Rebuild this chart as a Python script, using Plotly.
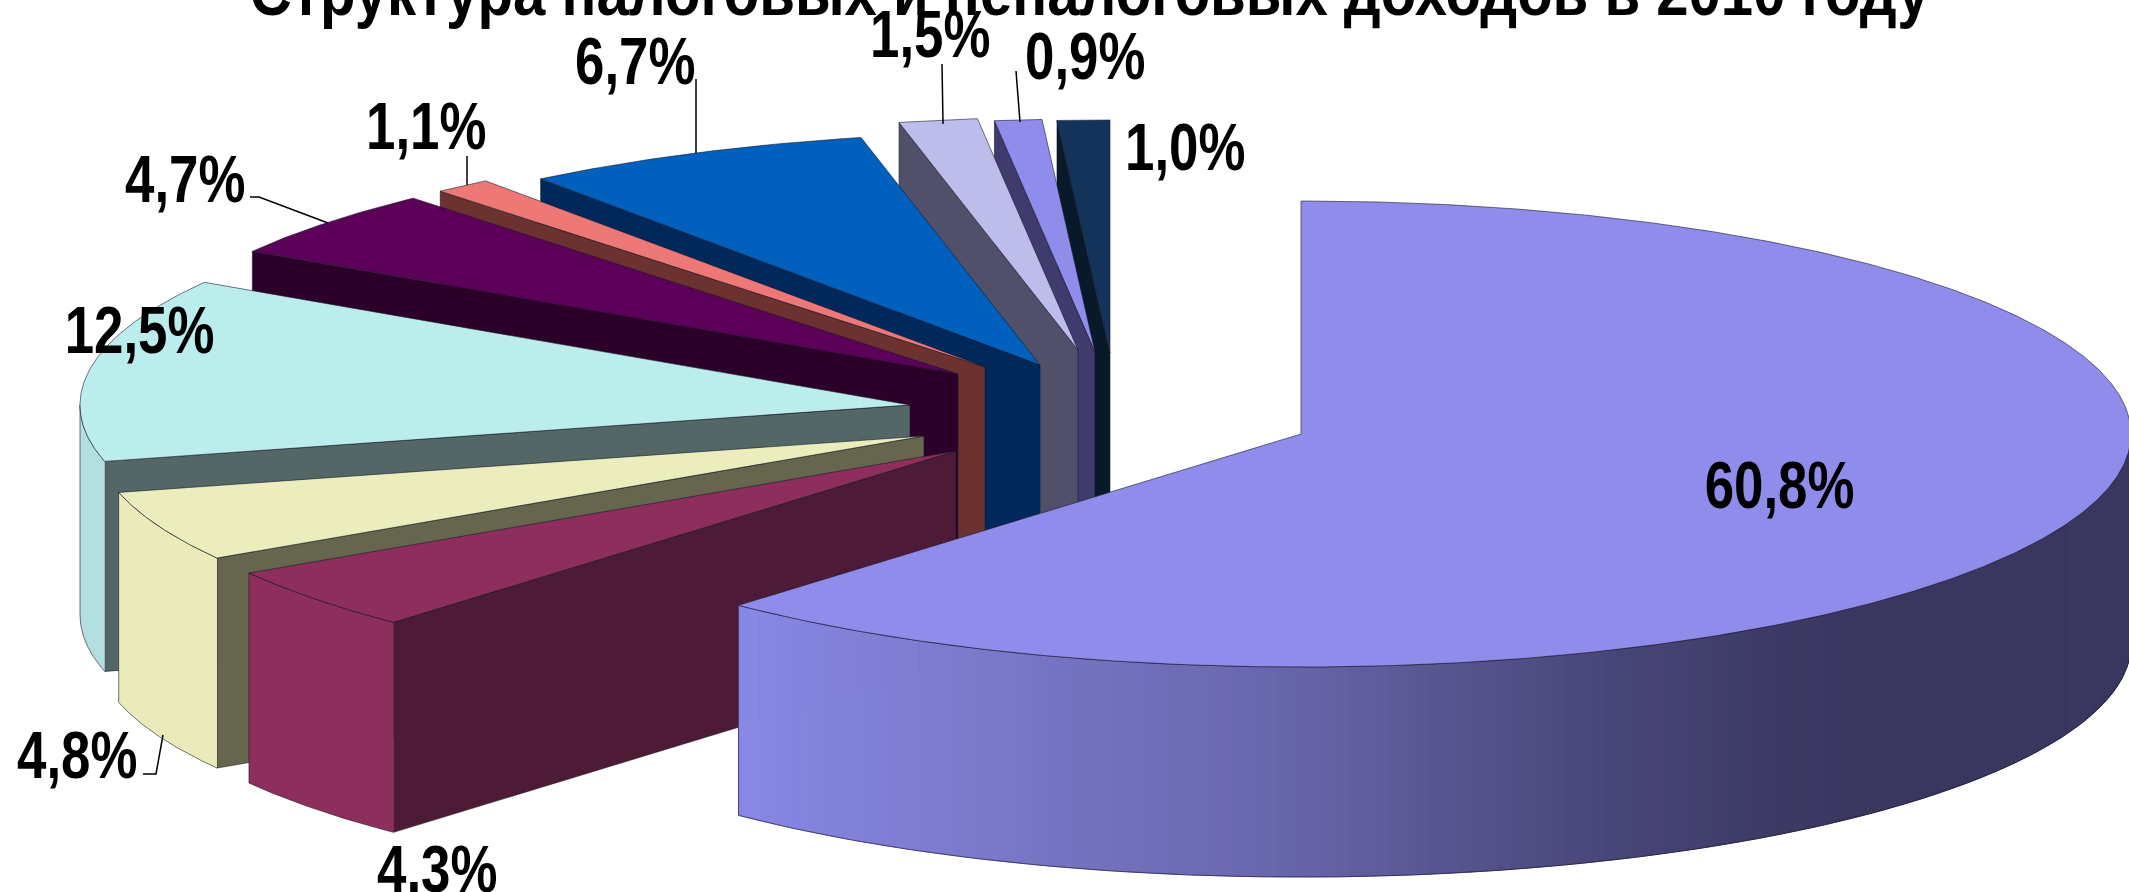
import numpy as np
import plotly.graph_objects as go

TITLE = "Структура налоговых и неналоговых доходов в 2010 году"
# clockwise from 12 o'clock
shares = [60.8, 4.3, 4.8, 12.5, 4.7, 1.1, 6.7, 1.5, 0.9, 1.0]
top_colors = ["#8f8ceb", "#8d2e5c", "#ecedbd", "#bbeded", "#5d0059", "#ee7876", "#0060bd", "#bdbdec", "#8f8ceb", "#13335a"]
wall_colors = ["#3f3b6d", "#4e1b36", "#66664e", "#536766", "#2b0029", "#6b3230", "#00285a", "#50506a", "#3f3b6d", "#08192a"]
rim_colors = [None, "#8d2e5c", "#eaeaba", "#b3dfe0", "#5d0059", "#ee7876", "#0060bd", "#bdbdec", "#8f8ceb", "#13335a"]
# explosion of every slice from the pie centre (layout, px)
pull_x = [191, -154, -186, -200, -152, -125, -70, -32, -15, 0]
pull_y = [81, 98, 83, 52, 21, 14, 12, -3, -1, 0]
# label anchors and leader lines (layout, px)
label_x = [1779, 437, 77, 139, 185, 426, 635, 930, 1085, 1185]
label_y = [485, 869, 755, 330, 179, 126, 61, 34, 56, 147]
leaders = [
    [],
    [],
    [(163, 735), (156, 774), (143, 774)],
    [],
    [(250, 197), (259, 197), (328, 223)],
    [(467, 156), (467, 185)],
    [(696, 79), (696, 153)],
    [(942, 64), (943, 124)],
    [(1016, 71), (1020, 122)],
    [],
]

W, H = 2129, 892
CX, CY = 1110, 353
RX, RY, DEPTH = 830, 233, 210
EDGE = "rgba(25,25,45,0.6)"
LABEL_FONT = "Liberation Sans, Arial, sans-serif"
GRAD_X = [741, 1000, 1283, 1520, 1748, 1885, 2129]
GRAD_R = [0x88, 0x7a, 0x68, 0x50, 0x3e, 0x39, 0x39]
GRAD_G = [0x88, 0x78, 0x66, 0x4e, 0x3c, 0x37, 0x37]
GRAD_B = [0xe6, 0xc8, 0xab, 0x84, 0x68, 0x5f, 0x5f]

fig = go.Figure()


def poly(xs, ys, fill, line=EDGE, lw=1):
    fig.add_trace(go.Scatter(
        x=list(xs), y=list(ys), mode="lines", fill="toself", fillcolor=fill,
        line=dict(color=line, width=lw), hoverinfo="skip", showlegend=False,
    ))


total = sum(shares)
angles = np.concatenate([[0], np.cumsum(shares)]) / total * 360

# back slices first, the big front slice last
for i in list(range(len(shares) - 1, 0, -1)) + [0]:
    t0, t1 = angles[i], angles[i + 1]
    ax, ay = CX + pull_x[i], CY + pull_y[i]

    def px(t):
        return ax + RX * np.sin(np.radians(t))

    def py(t):
        return ay - RY * np.cos(np.radians(t))

    # radial wall at the slice's starting edge
    if i != 0:
        ex, ey = px(t0), py(t0)
        poly([ax, ex, ex, ax, ax], [ay, ey, ey + DEPTH, ay + DEPTH, ay], wall_colors[i])

    # outer rim, the part that faces the viewer
    r0, r1 = max(t0, 90), min(t1, 270)
    if r1 > r0:
        if i == 0:
            steps = np.linspace(r0, r1, 140)
            for a, b in zip(steps[:-1], steps[1:]):
                xm = float(px((a + b) / 2))
                c = "rgb(%d,%d,%d)" % (np.interp(xm, GRAD_X, GRAD_R), np.interp(xm, GRAD_X, GRAD_G), np.interp(xm, GRAD_X, GRAD_B))
                poly([px(a), px(b), px(b), px(a), px(a)],
                     [py(a), py(b), py(b) + DEPTH, py(a) + DEPTH, py(a)], c, line=c, lw=1)
        tt = np.linspace(r0, r1, 160)
        xs = np.concatenate([px(tt), px(tt[::-1])])
        ys = np.concatenate([py(tt), py(tt[::-1]) + DEPTH])
        if i == 0:
            fig.add_trace(go.Scatter(x=xs, y=ys, mode="lines", line=dict(color=EDGE, width=1),
                                     hoverinfo="skip", showlegend=False))
        else:
            poly(xs, ys, rim_colors[i])

    # top face
    tt = np.linspace(t0, t1, max(8, int((t1 - t0) * 3)))
    poly(np.concatenate([[ax], px(tt), [ax]]), np.concatenate([[ay], py(tt), [ay]]), top_colors[i])

# leader lines
for pts in leaders:
    if pts:
        fig.add_trace(go.Scatter(x=[p[0] for p in pts], y=[p[1] for p in pts], mode="lines",
                                 line=dict(color="#000000", width=1.5), hoverinfo="skip", showlegend=False))

annotations = [
    dict(x=label_x[i], y=label_y[i], xref="x", yref="y", text="<b>" + f"{v:.1f}%".replace(".", ",") + "</b>",
         showarrow=False, xanchor="center", yanchor="middle",
         font=dict(family=LABEL_FONT, size=66, color="#000000"))
    for i, v in enumerate(shares)
]
annotations.append(dict(x=1090, y=31.5, xref="x", yref="y", text=f"<b>{TITLE}</b>", showarrow=False,
                        xanchor="center", yanchor="bottom",
                        font=dict(family=LABEL_FONT, size=66, color="#000000")))

fig.update_layout(
    width=W, height=H, margin=dict(l=0, r=0, t=0, b=0),
    paper_bgcolor="#ffffff", plot_bgcolor="#ffffff",
    xaxis=dict(range=[0, W], visible=False, fixedrange=True),
    yaxis=dict(range=[H, 0], visible=False, fixedrange=True),
    annotations=annotations, showlegend=False,
)
# the reference's lettering is horizontally condensed
POST = """
document.body.style.margin='0';document.body.style.overflow='hidden';
(function(){
  function squeeze(){
    var els=document.querySelectorAll('text.annotation-text');
    els.forEach(function(el){
      if(el.dataset.sq) return;
      var b=el.getBBox(), cx=b.x+b.width/2;
      var s=el.textContent.indexOf('%')>=0?0.8:0.88;
      el.setAttribute('transform','translate('+cx+' 0) scale('+s+' 1) translate('+(-cx)+' 0)');
      el.dataset.sq='1';
    });
  }
  squeeze();setTimeout(squeeze,50);setTimeout(squeeze,300);
})();
"""
fig.write_html("out.html", config={"displayModeBar": False, "responsive": False}, post_script=POST)
